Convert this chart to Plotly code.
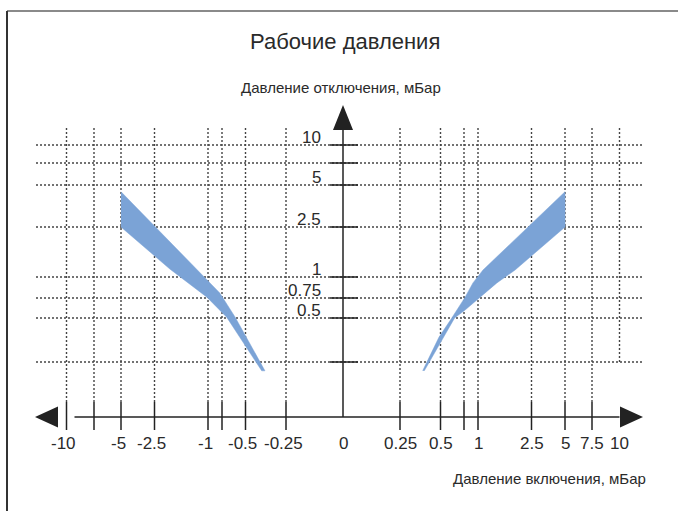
import numpy as np
import plotly.graph_objects as go

# Шкала схемы (нелинейная): значение -> расстояние от нуля
scale_vals = [0, 0.25, 0.5, 0.75, 1, 2.5, 5, 7.5, 10]
scale_x = [0, 57, 97.5, 121, 135, 188.5, 222, 249, 276.5]
scale_y = [0, 55, 99, 119, 140, 190, 232, 254, 272]

# Деления осей
x_ticks = [-10, -7.5, -5, -2.5, -1, -0.75, -0.5, -0.25, 0.25, 0.5, 0.75, 1, 2.5, 5, 7.5, 10]
x_labels = [-10, -5, -2.5, -1, -0.5, -0.25, 0, 0.25, 0.5, 1, 2.5, 5, 7.5, 10]
y_ticks = [0.25, 0.5, 0.75, 1, 2.5, 5, 7.5, 10]
y_labels = [0.5, 0.75, 1, 2.5, 5, 10]

# Область рабочих давлений (отрицательная сторона)
left_upper_x = [-5, -1.03, -0.79, -0.61, -0.485, -0.38]
left_upper_y = [4.6, 0.97, 0.81, 0.51, 0.375, 0.21]
left_lower_x = [-5, -2.07, -1.03, -0.70, -0.54, -0.40]
left_lower_y = [2.5, 1.24, 0.76, 0.51, 0.375, 0.21]

# Область рабочих давлений (положительная сторона)
right_upper_x = [0.39, 0.49, 0.62, 0.77, 0.91, 1.14, 5]
right_upper_y = [0.21, 0.39, 0.5, 0.76, 0.93, 1.21, 4.6]
right_lower_x = [0.4, 0.53, 0.65, 0.77, 1.06, 1.53, 2.04, 5]
right_lower_y = [0.21, 0.39, 0.5, 0.6, 0.76, 0.93, 1.21, 2.5]


def sx(v):
    v = np.asarray(v, dtype=float)
    return np.sign(v) * np.interp(np.abs(v), scale_vals, scale_x)


def sy(v):
    v = np.asarray(v, dtype=float)
    return np.sign(v) * np.interp(np.abs(v), scale_vals, scale_y)


def fmt(v):
    return ("%g" % v)


W, H = 678, 511
X0, Y0 = 343, 417  # положение начала координат на рисунке

band_color = "#7ba3d6"
grid_color = "#444444"
axis_color = "#222222"
text_color = "#2a2a2a"
font = "Liberation Sans, Arial, sans-serif"

fig = go.Figure()

# полосы
for ux, uy, lx, ly in [(left_upper_x, left_upper_y, left_lower_x, left_lower_y),
                       (right_upper_x, right_upper_y, right_lower_x, right_lower_y)]:
    px = np.concatenate([sx(ux), sx(lx)[::-1]])
    py = np.concatenate([sy(uy), sy(ly)[::-1]])
    fig.add_trace(go.Scatter(x=px, y=py, mode="lines", fill="toself",
                             fillcolor=band_color, line=dict(color=band_color, width=0.5),
                             hoverinfo="skip", showlegend=False))

dot = dict(color=grid_color, width=1.4, dash="2px,2px")
grid_top = Y0 - 128
grid_left, grid_right = 36 - X0, 643 - X0

# горизонтальная сетка
for v in y_ticks:
    yy = float(sy(v))
    fig.add_shape(type="line", x0=grid_left, x1=grid_right, y0=yy, y1=yy, line=dot, layer="below")
    fig.add_shape(type="line", x0=-13, x1=15, y0=yy, y1=yy,
                  line=dict(color=axis_color, width=1.5))

# вертикальная сетка
for v in x_ticks:
    xx = float(sx(v))
    if v == 10:
        fig.add_shape(type="line", x0=xx, x1=xx, y0=grid_top, y1=float(sy(0.25)), line=dot, layer="below")
        continue
    fig.add_shape(type="line", x0=xx, x1=xx, y0=grid_top, y1=15, line=dot, layer="below")
    fig.add_shape(type="line", x0=xx, x1=xx, y0=15, y1=-13,
                  line=dict(color=axis_color, width=1.5))

# оси и стрелки
x_end = float(sx(10))
fig.add_shape(type="line", x0=-x_end + 8, x1=x_end, y0=0, y1=0,
              line=dict(color=axis_color, width=1.5))
fig.add_shape(type="line", x0=0, x1=0, y0=0, y1=grid_top - 1,
              line=dict(color=axis_color, width=1.5))
arrows = [
    "M %f,0 L %f,10.5 L %f,-10.5 Z" % (35 - X0, 58 - X0, 58 - X0),
    "M %f,0 L %f,10.5 L %f,-10.5 Z" % (643 - X0, 620 - X0, 620 - X0),
    "M 0,%f L -10,%f L 10,%f Z" % (Y0 - 105, grid_top - 2, grid_top - 2),
]
for p in arrows:
    fig.add_shape(type="path", path=p, fillcolor=axis_color, line=dict(color=axis_color, width=0))

# рамка
fig.add_shape(type="line", x0=7 - X0, x1=W - X0, y0=Y0 - 11, y1=Y0 - 11,
              line=dict(color="#8a8a8a", width=2))
fig.add_shape(type="line", x0=7 - X0, x1=7 - X0, y0=Y0 - 11, y1=Y0 - H,
              line=dict(color="#333333", width=2))

# подписи делений
for v in x_labels:
    fig.add_annotation(x=float(sx(v)), y=-26, text=fmt(v), showarrow=False,
                       xshift=-3 if v < 0 else 0,
                       font=dict(family=font, size=17, color=text_color))
for v in y_labels:
    fig.add_annotation(x=-20, y=float(sy(v)), text=fmt(v), showarrow=False,
                       xanchor="right", yanchor="bottom", yshift=-4,
                       font=dict(family=font, size=17, color=text_color))

# заголовки
fig.add_annotation(x=345 - X0, y=Y0 - 41, text="Рабочие давления", showarrow=False,
                   font=dict(family=font, size=22, color=text_color))
fig.add_annotation(x=341 - X0, y=Y0 - 87, text="Давление отключения, мБар", showarrow=False,
                   font=dict(family=font, size=15, color=text_color))
fig.add_annotation(x=648 - X0, y=Y0 - 478, text="Давление включения, мБар", showarrow=False,
                   xanchor="right",
                   font=dict(family=font, size=15, color=text_color))

fig.update_layout(
    width=W, height=H,
    margin=dict(l=0, r=0, t=0, b=0),
    paper_bgcolor="white", plot_bgcolor="white",
    xaxis=dict(range=[-X0, W - X0], visible=False, fixedrange=True),
    yaxis=dict(range=[Y0 - H, Y0], visible=False, fixedrange=True),
    showlegend=False,
)

# убрать отступ страницы, чтобы рисунок начинался с угла окна
fig.write_html("out.html", config={"displayModeBar": False},
               post_script="document.body.style.margin='0';")
